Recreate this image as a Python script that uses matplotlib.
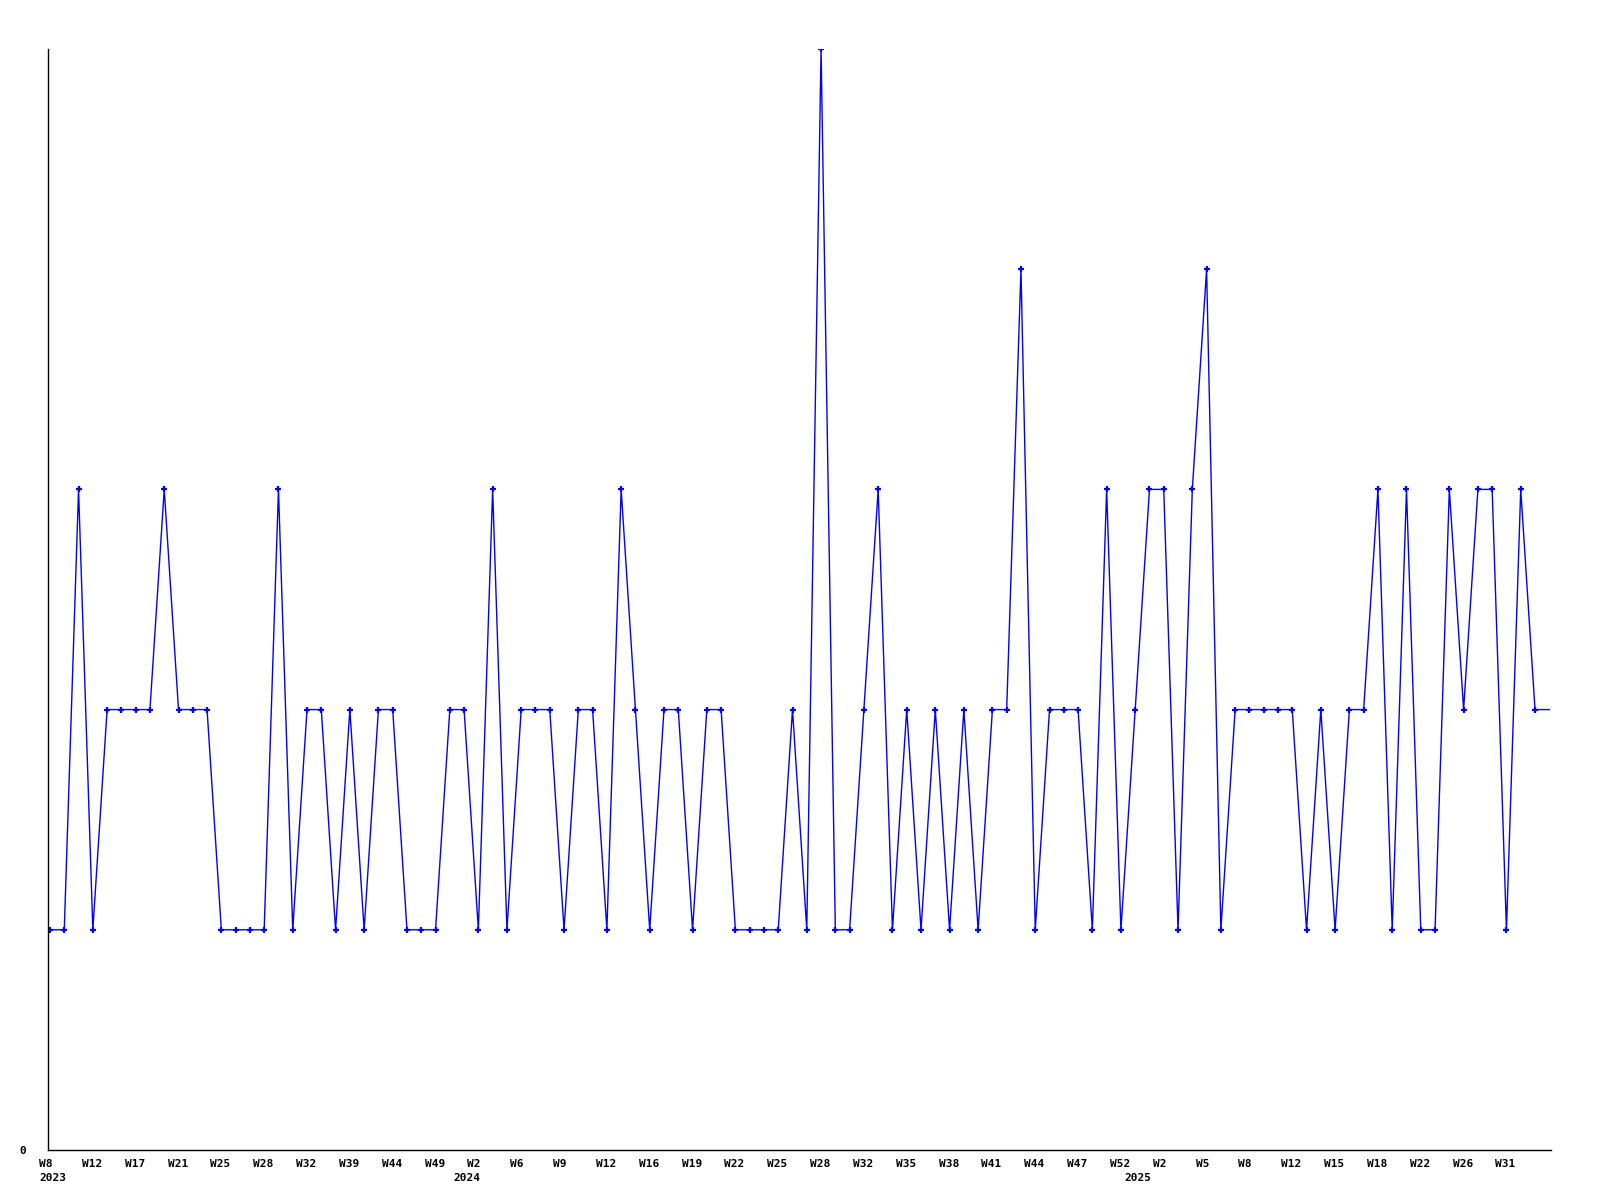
import matplotlib
matplotlib.use("Agg")
import matplotlib.pyplot as plt
import matplotlib.transforms as mtransforms

# ---- data ----
values = [1, 1, 3, 1, 2, 2, 2, 2, 3, 2,
          2, 2, 1, 1, 1, 1, 3, 1, 2, 2,
          1, 2, 1, 2, 2, 1, 1, 1, 2, 2,
          1, 3, 1, 2, 2, 2, 1, 2, 2, 1,
          3, 2, 1, 2, 2, 1, 2, 2, 1, 1,
          1, 1, 2, 1, 5, 1, 1, 2, 3, 1,
          2, 1, 2, 1, 2, 1, 2, 2, 4, 1,
          2, 2, 2, 1, 3, 1, 2, 3, 3, 1,
          3, 4, 1, 2, 2, 2, 2, 2, 1, 2,
          1, 2, 2, 3, 1, 3, 1, 1, 3, 2,
          3, 3, 1, 3, 2, 2]
week_labels = ["W8", "W12", "W17", "W21", "W25", "W28", "W32", "W39", "W44", "W49",
               "W2", "W6", "W9", "W12", "W16", "W19", "W22", "W25", "W28", "W32",
               "W35", "W38", "W41", "W44", "W47", "W52", "W2", "W5", "W8", "W12",
               "W15", "W18", "W22", "W26", "W31"]
label_every = 3
year_labels = ["2023", "2024", "2025"]
year_start_index = [0, 29, 76]

FONT = dict(family="DejaVu Sans Mono", fontweight="bold", fontsize=8)

fig = plt.figure(figsize=(16, 12), dpi=100)
ax = fig.add_axes([48 / 1600, 1 - 1150 / 1200, (1551 - 48) / 1600, (1150 - 49) / 1200])

x = list(range(len(values)))
ax.plot(x, values, color="#0000ff", lw=1.0, marker="+", markersize=5,
        markeredgewidth=1.6, markevery=slice(0, len(values) - 1), clip_on=True)

ax.set_xlim(-0.14, 105.12)
ax.set_ylim(0, 5)

for s in ["top", "right"]:
    ax.spines[s].set_visible(False)
for s in ["left", "bottom"]:
    ax.spines[s].set_color("black")
    ax.spines[s].set_linewidth(1.0)

ticks = list(range(0, len(week_labels) * label_every, label_every))
ax.set_xticks(ticks)
ax.set_xticklabels(week_labels, **FONT)
ax.tick_params(axis="x", length=0, pad=6.5)
off = mtransforms.ScaledTranslation(-11 / 100, 0, fig.dpi_scale_trans)
for lab in ax.get_xticklabels():
    lab.set_horizontalalignment("left")
    lab.set_transform(lab.get_transform() + off)

ax.set_yticks([0])
ax.set_yticklabels(["0"], **FONT)
ax.tick_params(axis="y", length=0, pad=16)

for lbl, idx in zip(year_labels, year_start_index):
    ax.annotate(lbl, xy=(idx, 0), xycoords=("data", "axes fraction"),
                xytext=(-11, -23), textcoords="offset pixels",
                ha="left", va="top", annotation_clip=False, **FONT)

fig.savefig("out.png", dpi=100, facecolor="white")
